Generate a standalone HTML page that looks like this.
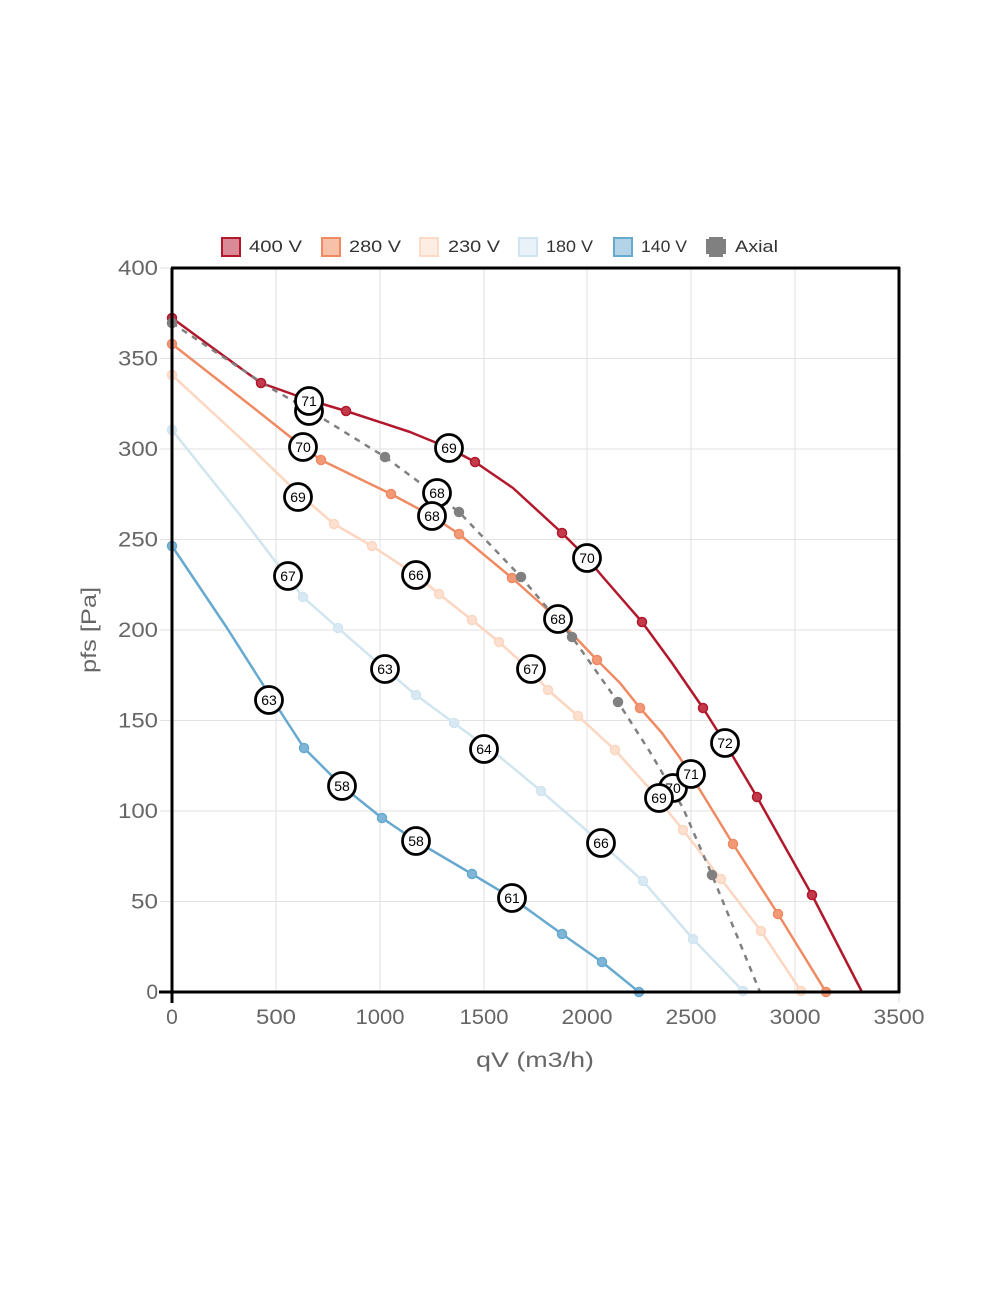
<!DOCTYPE html>
<html>
<head>
<meta charset="utf-8">
<style>
html,body{margin:0;padding:0;background:#fff;}
svg{display:block;}
.tk{font-family:"Liberation Sans",sans-serif;font-size:21px;fill:#666;}
.lg{font-family:"Liberation Sans",sans-serif;font-size:17px;fill:#333;}
.lb{font-family:"Liberation Sans",sans-serif;font-size:14px;fill:#000;text-anchor:middle;}
.lc{fill:#fff;stroke:#000;stroke-width:2.8;}
</style>
</head>
<body>
<svg width="1000" height="1300" viewBox="0 0 1000 1300" xmlns="http://www.w3.org/2000/svg">
<rect width="1000" height="1300" fill="#fff"/>

<!-- grid -->
<g stroke="#e2e2e2" stroke-width="1">
<line x1="160" y1="901.5" x2="899" y2="901.5"/>
<line x1="160" y1="811" x2="899" y2="811"/>
<line x1="160" y1="720.5" x2="899" y2="720.5"/>
<line x1="160" y1="630" x2="899" y2="630"/>
<line x1="160" y1="539.5" x2="899" y2="539.5"/>
<line x1="160" y1="449" x2="899" y2="449"/>
<line x1="160" y1="358.5" x2="899" y2="358.5"/>
<line x1="160" y1="268" x2="172" y2="268"/>
<line x1="276" y1="268" x2="276" y2="992"/>
<line x1="380" y1="268" x2="380" y2="992"/>
<line x1="484" y1="268" x2="484" y2="992"/>
<line x1="587" y1="268" x2="587" y2="992"/>
<line x1="691" y1="268" x2="691" y2="992"/>
<line x1="795" y1="268" x2="795" y2="992"/>
<line x1="899" y1="992" x2="899" y2="1003"/>
</g>

<!-- y tick labels -->
<g class="tk" text-anchor="end">
<text x="158" y="275" textLength="40" lengthAdjust="spacingAndGlyphs">400</text>
<text x="158" y="365.5" textLength="40" lengthAdjust="spacingAndGlyphs">350</text>
<text x="158" y="456" textLength="40" lengthAdjust="spacingAndGlyphs">300</text>
<text x="158" y="546.5" textLength="40" lengthAdjust="spacingAndGlyphs">250</text>
<text x="158" y="637" textLength="40" lengthAdjust="spacingAndGlyphs">200</text>
<text x="158" y="727.5" textLength="40" lengthAdjust="spacingAndGlyphs">150</text>
<text x="158" y="818" textLength="40" lengthAdjust="spacingAndGlyphs">100</text>
<text x="158" y="908.5" textLength="27" lengthAdjust="spacingAndGlyphs">50</text>
<text x="158" y="999">0</text>
</g>
<!-- x tick labels -->
<g class="tk" text-anchor="middle">
<text x="172" y="1024">0</text>
<text x="276" y="1024" textLength="40" lengthAdjust="spacingAndGlyphs">500</text>
<text x="380" y="1024" textLength="49" lengthAdjust="spacingAndGlyphs">1000</text>
<text x="484" y="1024" textLength="49" lengthAdjust="spacingAndGlyphs">1500</text>
<text x="587" y="1024" textLength="51" lengthAdjust="spacingAndGlyphs">2000</text>
<text x="691" y="1024" textLength="51" lengthAdjust="spacingAndGlyphs">2500</text>
<text x="795" y="1024" textLength="51" lengthAdjust="spacingAndGlyphs">3000</text>
<text x="899" y="1024" textLength="51" lengthAdjust="spacingAndGlyphs">3500</text>
</g>

<!-- axis titles -->
<text class="tk" x="535" y="1067" text-anchor="middle" font-size="22" textLength="118" lengthAdjust="spacingAndGlyphs">qV (m3/h)</text>
<text class="tk" x="0" y="0" text-anchor="middle" font-size="22" transform="translate(96,630) rotate(-90)" textLength="86" lengthAdjust="spacingAndGlyphs">pfs [Pa]</text>

<!-- legend -->
<g>
<rect x="222" y="238" width="18" height="18" fill="#d98a96" stroke="#b2182b" stroke-width="2"/>
<text class="lg" x="249" y="252" textLength="53" lengthAdjust="spacingAndGlyphs">400 V</text>
<rect x="322" y="238" width="18" height="18" fill="#f7c0a9" stroke="#ef8a62" stroke-width="2"/>
<text class="lg" x="349" y="252" textLength="52" lengthAdjust="spacingAndGlyphs">280 V</text>
<rect x="420" y="238" width="18" height="18" fill="#feede3" stroke="#fddbc7" stroke-width="2"/>
<text class="lg" x="448" y="252" textLength="52" lengthAdjust="spacingAndGlyphs">230 V</text>
<rect x="519" y="238" width="18" height="18" fill="#e8f2f8" stroke="#d1e5f0" stroke-width="2"/>
<text class="lg" x="546" y="252" textLength="47" lengthAdjust="spacingAndGlyphs">180 V</text>
<rect x="614" y="238" width="18" height="18" fill="#b3d4e7" stroke="#67a9cf" stroke-width="2"/>
<text class="lg" x="641" y="252" textLength="46" lengthAdjust="spacingAndGlyphs">140 V</text>
<polygon points="709,237 723,237 723,239 726,239 726,254 723,254 723,257 709,257 709,254 706,254 706,239 709,239" fill="#808080"/>
<text class="lg" x="735" y="252" textLength="43" lengthAdjust="spacingAndGlyphs">Axial</text>
</g>

<!-- series lines -->
<g fill="none" stroke-linejoin="round" stroke-linecap="round" stroke-width="2.5">
<polyline stroke="#67a9cf" points="172,546 227,628 269,694 304,748 342,786 382,818 416,841 472,874 512,898 562,934 602,962 639,992"/>
<polyline stroke="#d1e5f0" points="172,430 240,515 288,578 303,597 338,628 385,669 416,695 454,723 500,757 541,791 601,843 643,881 693,939 743,991"/>
<polyline stroke="#fcd6c0" points="172,375 250,447 298,493 334,524 372,546 416,575 439,594 472,620 499,642 531,671 548,690 578,716 615,750 650,789 683,830 721,879 761,931 801,991"/>
<polyline stroke="#ef8a62" points="172,344 250,405 303,447 321,460 360,479 391,494 432,516 459,534 512,578 558,619 597,660 620,683 640,708 662,733 680,758 700,790 733,844 778,914 826,992"/>
<polyline stroke="#b2182b" points="172,318 217,351 261,383 309,400 346,411 410,432 449,448 475,462 513,488 562,533 587,558 602,576 642,622 672,663 703,708 725,743 757,797 812,895 862,992"/>
<polyline stroke="#808080" stroke-dasharray="6 6" stroke-linecap="butt" points="172,323 217,353 267,386 309,410 385,457 427,488 459,512 521,577 572,637 618,702 650,752 683,808 712,875 760,992"/>
</g>

<!-- markers -->
<g stroke-width="1.5">
<g fill="#7fb6d7" stroke="#67a9cf">
<circle cx="172" cy="546" r="4.5"/><circle cx="304" cy="748" r="4.5"/><circle cx="382" cy="818" r="4.5"/><circle cx="472" cy="874" r="4.5"/><circle cx="562" cy="934" r="4.5"/><circle cx="602" cy="962" r="4.5"/><circle cx="639" cy="992" r="4.5"/>
</g>
<g fill="#d9e9f3" stroke="#d1e5f0">
<circle cx="172" cy="430" r="4.5"/><circle cx="303" cy="597" r="4.5"/><circle cx="338" cy="628" r="4.5"/><circle cx="416" cy="695" r="4.5"/><circle cx="454" cy="723" r="4.5"/><circle cx="541" cy="791" r="4.5"/><circle cx="643" cy="881" r="4.5"/><circle cx="693" cy="939" r="4.5"/><circle cx="743" cy="991" r="4.5"/>
</g>
<g fill="#fde0cf" stroke="#fcd6c0">
<circle cx="172" cy="375" r="4.5"/><circle cx="334" cy="524" r="4.5"/><circle cx="372" cy="546" r="4.5"/><circle cx="439" cy="594" r="4.5"/><circle cx="472" cy="620" r="4.5"/><circle cx="499" cy="642" r="4.5"/><circle cx="548" cy="690" r="4.5"/><circle cx="578" cy="716" r="4.5"/><circle cx="615" cy="750" r="4.5"/><circle cx="683" cy="830" r="4.5"/><circle cx="721" cy="879" r="4.5"/><circle cx="761" cy="931" r="4.5"/><circle cx="801" cy="991" r="4.5"/>
</g>
<g fill="#f29a77" stroke="#ef8a62">
<circle cx="172" cy="344" r="4.5"/><circle cx="321" cy="460" r="4.5"/><circle cx="391" cy="494" r="4.5"/><circle cx="459" cy="534" r="4.5"/><circle cx="512" cy="578" r="4.5"/><circle cx="597" cy="660" r="4.5"/><circle cx="640" cy="708" r="4.5"/><circle cx="733" cy="844" r="4.5"/><circle cx="778" cy="914" r="4.5"/><circle cx="826" cy="992" r="4.5"/>
</g>
<g fill="#c23a4b" stroke="#b2182b">
<circle cx="172" cy="318" r="4.5"/><circle cx="261" cy="383" r="4.5"/><circle cx="346" cy="411" r="4.5"/><circle cx="475" cy="462" r="4.5"/><circle cx="562" cy="533" r="4.5"/><circle cx="642" cy="622" r="4.5"/><circle cx="703" cy="708" r="4.5"/><circle cx="757" cy="797" r="4.5"/><circle cx="812" cy="895" r="4.5"/>
</g>
<g fill="#808080" stroke="#808080">
<circle cx="172" cy="323" r="4.5"/><circle cx="385" cy="457" r="4.5"/><circle cx="459" cy="512" r="4.5"/><circle cx="521" cy="577" r="4.5"/><circle cx="572" cy="637" r="4.5"/><circle cx="618" cy="702" r="4.5"/><circle cx="712" cy="875" r="4.5"/>
</g>
</g>

<!-- axes frame -->
<g stroke="#000" stroke-width="3" fill="none">
<line x1="172" y1="268" x2="172" y2="1003"/>
<line x1="159" y1="992" x2="900" y2="992"/>
<line x1="171" y1="268" x2="900" y2="268"/>
<line x1="899" y1="267" x2="899" y2="993"/>
</g>

<!-- annotation labels -->
<g>
<circle class="lc" cx="309" cy="411" r="13.5"/>
<circle class="lc" cx="309" cy="401" r="13.5"/><text class="lb" x="309" y="406">71</text>
<circle class="lc" cx="303" cy="447" r="13.5"/><text class="lb" x="303" y="452">70</text>
<circle class="lc" cx="449" cy="448" r="13.5"/><text class="lb" x="449" y="453">69</text>
<circle class="lc" cx="437" cy="493" r="13.5"/><text class="lb" x="437" y="498">68</text>
<circle class="lc" cx="432" cy="516" r="13.5"/><text class="lb" x="432" y="521">68</text>
<circle class="lc" cx="298" cy="497" r="13.5"/><text class="lb" x="298" y="502">69</text>
<circle class="lc" cx="587" cy="558" r="13.5"/><text class="lb" x="587" y="563">70</text>
<circle class="lc" cx="416" cy="575" r="13.5"/><text class="lb" x="416" y="580">66</text>
<circle class="lc" cx="288" cy="576" r="13.5"/><text class="lb" x="288" y="581">67</text>
<circle class="lc" cx="558" cy="619" r="13.5"/><text class="lb" x="558" y="624">68</text>
<circle class="lc" cx="531" cy="669" r="13.5"/><text class="lb" x="531" y="674">67</text>
<circle class="lc" cx="385" cy="669" r="13.5"/><text class="lb" x="385" y="674">63</text>
<circle class="lc" cx="269" cy="700" r="13.5"/><text class="lb" x="269" y="705">63</text>
<circle class="lc" cx="725" cy="743" r="13.5"/><text class="lb" x="725" y="748">72</text>
<circle class="lc" cx="484" cy="749" r="13.5"/><text class="lb" x="484" y="754">64</text>
<circle class="lc" cx="673" cy="788" r="13.5"/><text class="lb" x="673" y="793">70</text>
<circle class="lc" cx="691" cy="774" r="13.5"/><text class="lb" x="691" y="779">71</text>
<circle class="lc" cx="659" cy="798" r="13.5"/><text class="lb" x="659" y="803">69</text>
<circle class="lc" cx="342" cy="786" r="13.5"/><text class="lb" x="342" y="791">58</text>
<circle class="lc" cx="416" cy="841" r="13.5"/><text class="lb" x="416" y="846">58</text>
<circle class="lc" cx="601" cy="843" r="13.5"/><text class="lb" x="601" y="848">66</text>
<circle class="lc" cx="512" cy="898" r="13.5"/><text class="lb" x="512" y="903">61</text>
</g>
</svg>
</body>
</html>
